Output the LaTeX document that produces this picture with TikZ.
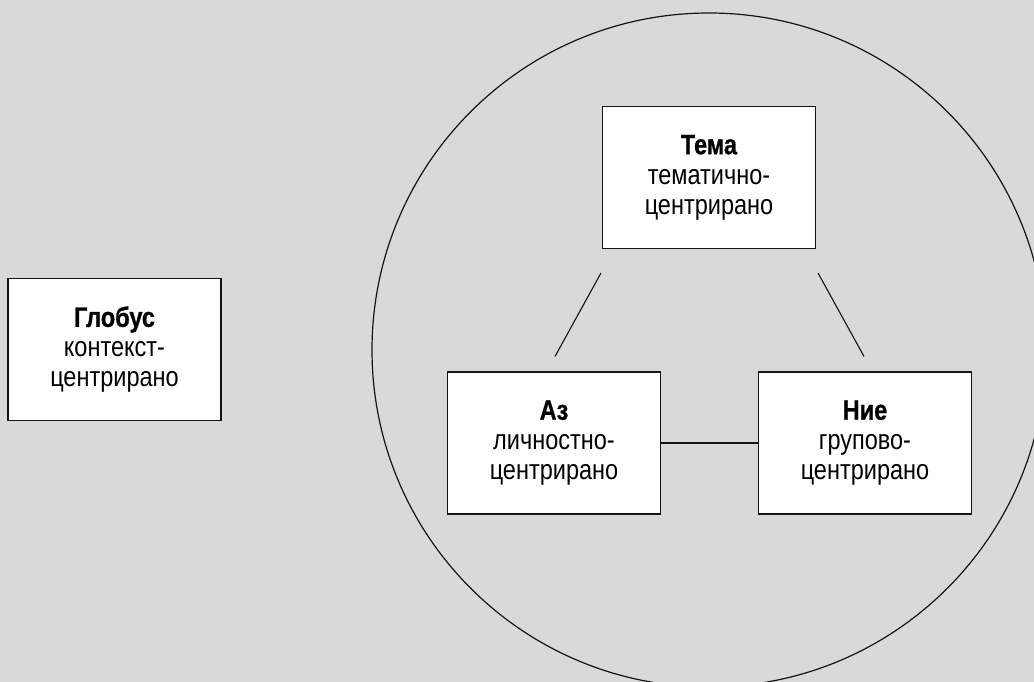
\documentclass[tikz,border=0pt]{standalone}
\usepackage{fontspec}
\setmainfont{Liberation Sans}[FakeStretch=0.84,BoldFeatures={FakeBold=0.8}]
\usetikzlibrary{calc}
\definecolor{bggray}{RGB}{217,217,217}
\definecolor{ink}{RGB}{20,20,20}
\begin{document}
\begin{tikzpicture}[x=1pt,y=-1pt,
  box/.style={draw=ink,line width=1.1pt,fill=white,minimum width=213pt,minimum height=142pt,
    align=center,inner sep=0pt,font=\fontsize{28}{30}\selectfont},
  link/.style={draw=ink,line width=1.1pt}]
\useasboundingbox (0,0) rectangle (1034,682);
\fill[bggray] (0,0) rectangle (1034,682);
\begin{scope}
\clip (0,0) rectangle (1034,682);
\draw[ink,line width=1.2pt] (709,350) circle[radius=337pt];
\end{scope}
\node[box] (globus) at (114.5,349.5) {\textbf{Глобус}\\контекст-\\центрирано};
\node[box] (tema) at (709,177.5) {\textbf{Тема}\\тематично-\\центрирано};
\node[box] (az) at (554,443) {\textbf{Аз}\\личностно-\\центрирано};
\node[box] (nie) at (865,443) {\textbf{Ние}\\групово-\\центрирано};
\coordinate (tl1) at ($(tema.south west)+(-1,24)$);
\coordinate (tl2) at ($(az.north)+(1,-15)$);
\coordinate (tr1) at ($(tema.south east)+(2,24)$);
\coordinate (tr2) at ($(nie.north)+(-1,-15)$);
\draw[link] (tl1) -- (tl2);
\draw[link] (tr1) -- (tr2);
\draw[link] (az) -- (nie);
\end{tikzpicture}
\end{document}
